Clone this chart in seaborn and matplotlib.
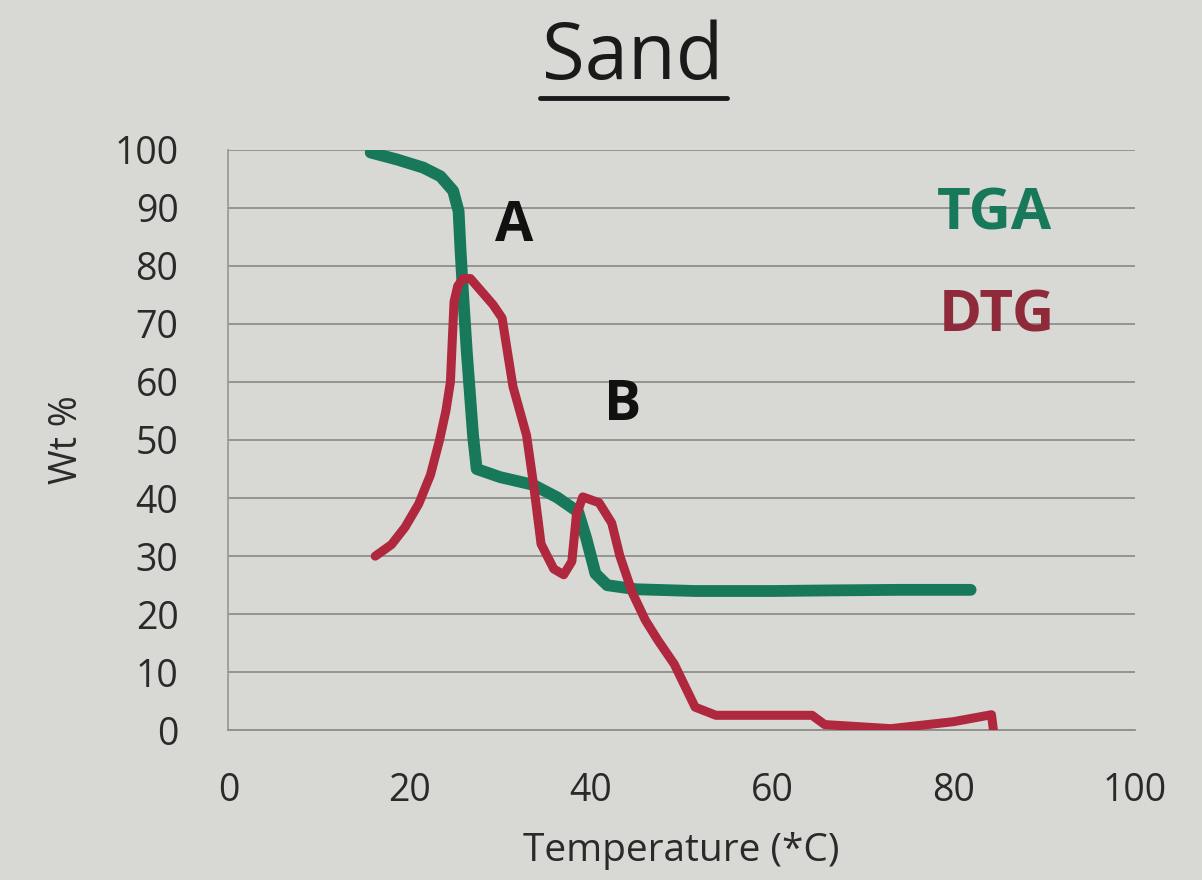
import matplotlib
matplotlib.use('Agg')
import matplotlib.pyplot as plt
import seaborn as sns
from matplotlib.lines import Line2D

# TGA curve (weight %)
tga_temp = [15.7, 18.6, 21.5, 23.4, 24.8, 25.4, 25.6, 25.9, 26.3, 27.0, 27.4, 30.0,
            33.6, 36.3, 38.6, 39.5, 40.5, 41.8, 45.0, 51.5, 60.0, 66.2, 74.0, 81.9]
tga_wt = [99.5, 98.3, 96.9, 95.4, 92.9, 89.4, 83.1, 75.0, 65.3, 50.7, 45.0, 43.6,
          42.3, 40.1, 37.6, 33.0, 27.0, 25.0, 24.3, 24.0, 24.0, 24.1, 24.2, 24.2]

# DTG curve
dtg_temp = [16.2, 18.0, 19.5, 21.0, 22.3, 23.3, 24.0, 24.5, 24.7, 24.9, 25.3, 25.9,
            26.7, 29.2, 30.2, 31.4, 32.9, 33.7, 34.5, 35.9, 37.0, 37.9, 38.4, 39.1,
            40.9, 42.3, 43.2, 44.6, 46.0, 47.4, 49.2, 51.5, 53.8, 64.4, 65.8, 73.1,
            80.0, 84.2, 84.4]
dtg_wt = [30.0, 32.0, 35.0, 39.0, 44.0, 50.0, 55.0, 60.0, 67.0, 73.8, 76.5, 77.8,
          77.8, 73.3, 71.0, 59.2, 50.8, 42.0, 32.1, 27.8, 26.8, 29.1, 37.1, 40.2,
          39.2, 35.7, 30.0, 23.6, 19.0, 15.5, 11.4, 4.0, 2.6, 2.6, 1.0, 0.3,
          1.5, 2.7, 0.2]

x_ticks = [0, 20, 40, 60, 80, 100]
y_ticks = [0, 10, 20, 30, 40, 50, 60, 70, 80, 90, 100]

bg = '#d8d8d4'
green = '#17795a'
red = '#b0283d'

sns.set_style('white')
plt.rcParams['font.family'] = ['Open Sans', 'DejaVu Sans']

fig, ax = plt.subplots(figsize=(12.02, 8.8), dpi=100)
fig.patch.set_facecolor(bg)
ax.set_facecolor(bg)
fig.subplots_adjust(left=0.19, right=0.944, bottom=0.17, top=0.83)

sns.lineplot(x=tga_temp, y=tga_wt, sort=False, estimator=None, color=green,
             linewidth=8.5, solid_capstyle='round', solid_joinstyle='round', ax=ax, zorder=3)
sns.lineplot(x=dtg_temp, y=dtg_wt, sort=False, estimator=None, color=red,
             linewidth=6.5, solid_capstyle='round', solid_joinstyle='round', ax=ax, zorder=4)

ax.set_xlim(0, 100)
ax.set_ylim(0, 100)
ax.set_xticks(x_ticks)
ax.set_yticks(y_ticks)
ax.tick_params(axis='both', length=0, labelsize=27, labelcolor='#2a2a2a')
ax.tick_params(axis='x', pad=30)
ax.tick_params(axis='y', pad=36)

ax.yaxis.grid(True, color='#8e8e8c', linewidth=1.3)
ax.xaxis.grid(False)
sns.despine(ax=ax, top=True, right=True)
ax.spines['left'].set_color('#9a9a98')
ax.spines['left'].set_linewidth(1.3)
ax.spines['bottom'].set_color('#8e8e8c')
ax.spines['bottom'].set_linewidth(1.3)

ax.set_ylabel('Wt %', fontsize=27, color='#2a2a2a', labelpad=20)
ax.set_xlabel('Temperature (*C)', fontsize=28, color='#2a2a2a', labelpad=16)

# peak labels and series names
ax.text(31.5, 86.7, 'A', fontsize=40, fontweight='bold', color='#111111', ha='center', va='center')
ax.text(43.5, 56, 'B', fontsize=40, fontweight='bold', color='#111111', ha='center', va='center')
ax.text(84.5, 88.8, 'TGA', fontsize=42, fontweight='bold', color=green, ha='center', va='center')
ax.text(84.8, 71.2, 'DTG', fontsize=42, fontweight='bold', color='#8e2a3a', ha='center', va='center')

# underlined title
fig.text(0.526, 0.934, 'Sand', fontsize=56, color='#1a1a1a', ha='center', va='center')
fig.add_artist(Line2D([0.449, 0.605], [0.889, 0.889], color='#1a1a1a', linewidth=3.5,
                      transform=fig.transFigure))

plt.savefig('out.png', dpi=100, facecolor=bg)
